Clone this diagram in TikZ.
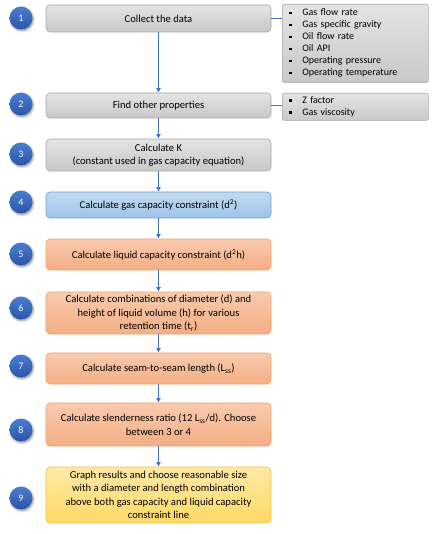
\documentclass[tikz,border=0pt]{standalone}
\usepackage{fontspec}
\setmainfont{Carlito}
\usetikzlibrary{arrows.meta,shadows.blur}
\definecolor{grayT}{HTML}{E4E4E4}
\definecolor{grayB}{HTML}{C8C8C8}
\definecolor{grayD}{HTML}{A6A6A6}
\definecolor{blueT}{HTML}{C3DAF0}
\definecolor{blueB}{HTML}{9DC3E6}
\definecolor{blueD}{HTML}{6C9ED6}
\definecolor{oraT}{HTML}{F9CBAE}
\definecolor{oraB}{HTML}{F4AE84}
\definecolor{oraD}{HTML}{F0A070}
\definecolor{yelT}{HTML}{FFE9A6}
\definecolor{yelB}{HTML}{FFD966}
\definecolor{yelD}{HTML}{F5C242}
\definecolor{arr}{HTML}{4472C4}
\definecolor{ballT}{HTML}{4A7DD2}
\definecolor{ballB}{HTML}{2A56A8}
\newcommand\sqbul{\makebox[13pt][l]{\raisebox{1.8pt}{\rule{2.4pt}{2.4pt}}}}
\tikzset{
  box/.style={rounded corners=4pt, minimum width=225pt, align=center, line width=0.6pt,
    font=\fontsize{10.6}{13.4}\selectfont, inner sep=2pt},
  graybox/.style={box, draw=grayD, top color=grayT, bottom color=grayB},
  bluebox/.style={box, draw=blueD, top color=blueT, bottom color=blueB},
  orabox/.style={box, draw=oraD, top color=oraT, bottom color=oraB},
  yelbox/.style={box, draw=yelD, top color=yelT, bottom color=yelB},
  listbox/.style={anchor=north west, draw=grayD, line width=0.6pt, rounded corners=2pt,
    top color=grayT, bottom color=grayB, minimum width=146pt, text width=132pt,
    align=left, inner xsep=7pt, font=\fontsize{10}{12}\selectfont},
  ball/.style={circle, minimum size=23pt, inner sep=0pt, top color=ballT, bottom color=ballB,
    text=white, font=\fontsize{10}{10}\selectfont,
    blur shadow={shadow xshift=1pt, shadow yshift=-1.5pt, shadow blur steps=5, shadow opacity=40}},
  flow/.style={draw=arr, line width=1.4pt, -{Latex[length=4.5pt,width=5pt]}},
  link/.style={draw=arr, line width=1.4pt}
}
\begin{document}
\begin{tikzpicture}[x=1pt,y=-1pt]
\useasboundingbox (0,0) rectangle (444,534);
\node[graybox, minimum height=27pt] (b1) at (158.5,18.5) {Collect the data};
\node[graybox, minimum height=25pt] (b2) at (158.5,105.5) {Find other properties};
\node[graybox, minimum height=32pt] (b3) at (158.5,155) {Calculate K\\(constant used in gas capacity equation)};
\node[bluebox, minimum height=26pt] (b4) at (158.5,205) {Calculate gas capacity constraint (d\textsuperscript{2})};
\node[orabox, minimum height=31pt] (b5) at (158.5,254.5) {Calculate liquid capacity constraint (d\textsuperscript{2}h)};
\node[orabox, minimum height=42pt] (b6) at (158.5,313) {Calculate combinations of diameter (d) and\\height of liquid volume (h) for various\\retention time (t\textsubscript{r})};
\node[orabox, minimum height=31pt] (b7) at (158.5,368.5) {Calculate seam-to-seam length (L\textsubscript{ss})};
\node[orabox, minimum height=43pt] (b8) at (158.5,424.5) {Calculate slenderness ratio (12 L\textsubscript{ss}/d). Choose\\between 3 or 4};
\node[yelbox, minimum height=56pt] (b9) at (158.5,495) {Graph results and choose reasonable size\\with a diameter and length combination\\above both gas capacity and liquid capacity\\constraint line};

\node[listbox, minimum height=78pt] (r1) at (282,4) {\sqbul Gas flow rate\\\sqbul Gas specific gravity\\\sqbul Oil flow rate\\\sqbul Oil API\\\sqbul Operating pressure\\\sqbul Operating temperature};
\node[listbox, minimum height=25pt] (r2) at (282,93) {\sqbul Z factor\\\sqbul Gas viscosity};

\draw[link] (b1.east) -- (b1.east -| r1.west);
\draw[link] (b2.east) -- (b2.east -| r2.west);

\draw[flow] (b1) -- (b2);
\draw[flow] (b2) -- (b3);
\draw[flow] (b3) -- (b4);
\draw[flow] (b4) -- (b5);
\draw[flow] (b5) -- (b6);
\draw[flow] (b6) -- (b7);
\draw[flow] (b7) -- (b8);
\draw[flow] (b8) -- (b9);

\node[ball] (c1) at (21,18) {1};
\node[ball] (c2) at (21,104) {2};
\node[ball] (c3) at (21,154) {3};
\node[ball] (c4) at (21,202) {4};
\node[ball] (c5) at (21,254) {5};
\node[ball] (c6) at (21,308) {6};
\node[ball] (c7) at (21,366) {7};
\node[ball] (c8) at (21,430) {8};
\node[ball] (c9) at (21,498) {9};
\end{tikzpicture}
\end{document}
